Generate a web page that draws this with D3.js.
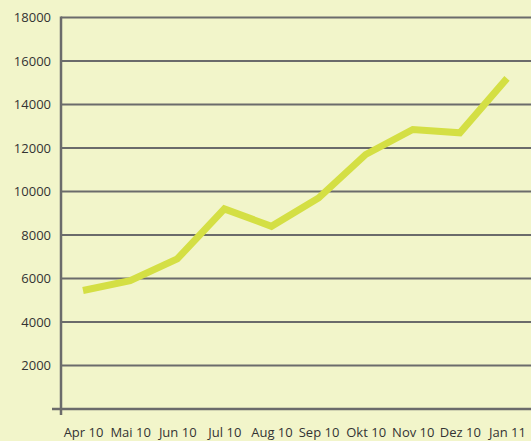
<!DOCTYPE html>
<html>
<head>
<meta charset="utf-8">
<script src="https://cdn.jsdelivr.net/npm/d3@7"></script>
<style>
  body { margin: 0; background: #f2f5ca; }
  svg { display: block; }
  .tick text { font-family: "Open Sans", sans-serif; font-size: 13px; fill: #333; }
</style>
</head>
<body>
<script>
var width = 531,
    height = 441;

// data
var months = ["Apr 10", "Mai 10", "Jun 10", "Jul 10", "Aug 10", "Sep 10", "Okt 10", "Nov 10", "Dez 10", "Jan 11"];
var values = [5450, 5900, 6900, 9200, 8400, 9700, 11700, 12850, 12700, 15200];
var yTicks = [2000, 4000, 6000, 8000, 10000, 12000, 14000, 16000, 18000];

var svg = d3.select("body").append("svg")
    .attr("width", width)
    .attr("height", height);

svg.append("rect")
    .attr("width", width)
    .attr("height", height)
    .attr("fill", "#f2f5ca");

var x = d3.scalePoint()
    .domain(months)
    .range([83, 507]);

var y = d3.scaleLinear()
    .domain([0, 18000])
    .range([409, 17.5]);

// horizontal grid lines
svg.append("g")
    .selectAll("line")
    .data(yTicks)
    .enter().append("line")
    .attr("x1", 61)
    .attr("x2", width)
    .attr("y1", function (d) { return y(d); })
    .attr("y2", function (d) { return y(d); })
    .attr("stroke", "#6b6b6b")
    .attr("stroke-width", 2);

// y labels
var yAxis = svg.append("g")
    .attr("transform", "translate(61,0)")
    .call(d3.axisLeft(y).tickValues(yTicks).tickFormat(d3.format("d")).tickSize(0).tickPadding(10));
yAxis.select(".domain").remove();

// x labels
var xAxis = svg.append("g")
    .attr("transform", "translate(0,409)")
    .call(d3.axisBottom(x).tickSize(0).tickPadding(19));
xAxis.select(".domain").remove();

// axis lines
svg.append("line")
    .attr("x1", 52).attr("x2", width)
    .attr("y1", y(0)).attr("y2", y(0))
    .attr("stroke", "#6b6b6b")
    .attr("stroke-width", 2.5);

svg.append("line")
    .attr("x1", 61).attr("x2", 61)
    .attr("y1", y(18000) - 1).attr("y2", 415)
    .attr("stroke", "#6b6b6b")
    .attr("stroke-width", 2.5);

var line = d3.line()
    .x(function (d, i) { return x(months[i]); })
    .y(function (d) { return y(d); });

svg.append("path")
    .datum(values)
    .attr("d", line)
    .attr("fill", "none")
    .attr("stroke", "#d4df44")
    .attr("stroke-width", 7)
    .attr("stroke-linejoin", "miter");
</script>
</body>
</html>
